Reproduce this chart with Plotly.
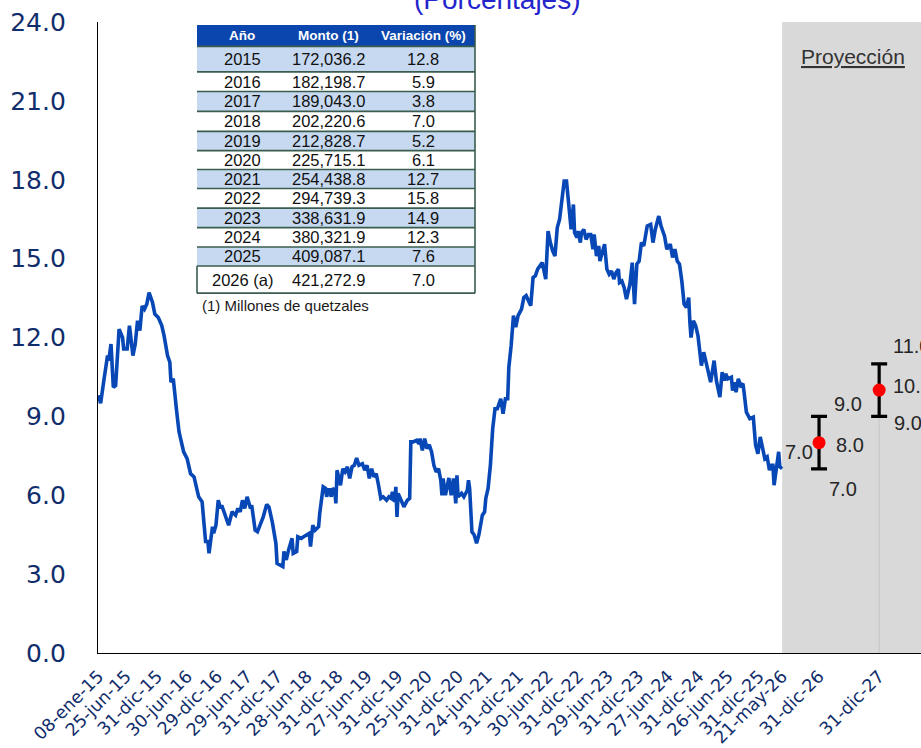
import plotly.graph_objects as go
import pandas as pd

# ---------------- data ----------------
inicio = "2015-01-08"  # first weekly observation
semana = [0, 2, 5, 6, 8, 9, 11, 13, 15, 18, 21, 22, 25, 27, 30, 32, 34, 36, 38,
          40, 42, 44, 47, 49, 52, 55, 57, 60, 62, 63, 65, 68, 70, 74, 77, 80, 83, 87, 90,
          93, 95, 96, 99, 100, 102, 104, 106, 107, 110, 113, 116, 119, 121, 123, 125, 127, 129, 132, 133,
          136, 138,
          140, 143, 146, 148, 151, 153, 154, 155, 158, 160, 161, 163, 165, 168, 169, 172, 173, 176, 178, 181,
          183, 184, 186, 188, 191, 192, 195, 197, 198, 200, 202, 203, 205, 206, 207, 210, 212, 214, 216, 218,
          220, 222, 224, 226, 229, 231, 233, 235, 237, 239, 241, 243, 245, 247, 250, 252, 254, 255, 257, 258,
          259, 260, 262, 265, 268, 270, 271, 273, 276, 278, 279, 281, 283, 285, 287, 289, 291, 293, 295, 297,
          298, 299, 301, 303, 304, 306, 308, 310, 311, 312, 315, 317, 320, 321,
          322, 324, 326, 328, 330, 333, 335, 336, 338, 340, 342, 344, 346, 348, 349, 351, 353, 355, 356, 358,
          360, 362, 364, 367, 369, 371, 373, 375, 377, 379, 381, 383, 385, 388, 390, 392, 394, 396, 398, 400,
          402, 404, 406, 407, 409, 410, 412, 413, 415, 416, 418, 419, 421, 423, 425, 427, 429, 430, 432, 434,
          435, 437, 439, 441, 443, 445, 447, 449, 451, 452,
          454, 456, 458, 461, 463, 465, 467, 469, 471, 473, 476, 479, 481, 483, 486, 488, 491, 493, 496, 498,
          500, 502, 504, 506, 508, 510, 512, 513, 514, 516, 518, 520, 522, 523, 525, 527, 529, 531, 534, 536,
          539, 541, 543, 544, 546, 549, 550, 552, 553, 555, 557, 559, 560, 562, 565, 568, 570, 572, 574, 576,
          578, 580, 582, 583, 585, 586, 588, 590, 591, 593]
valor = [9.8, 9.5, 10.43, 10.68, 11.31, 11.12, 11.75, 10.11, 10.17, 12.32, 12.0, 11.56, 11.56, 12.45, 11.31,
         11.75, 12.64, 12.26, 13.2,
         13.08, 13.27, 13.71, 13.33, 12.89, 12.76, 12.45, 12.07, 11.31, 11.06, 10.3, 10.43, 9.16, 8.41, 7.65,
         7.39, 6.82, 6.70, 5.94, 5.75,
         4.24, 4.24, 3.79, 4.80, 4.55, 4.86, 5.81, 5.50, 5.62, 5.24, 4.86, 5.37, 5.24, 5.50, 5.37, 5.81, 5.50,
         5.94, 5.50, 5.62, 4.67, 4.61,
         4.85, 5.18, 5.65, 5.55, 4.95, 4.42, 4.17, 3.41, 3.35, 3.29, 3.86, 3.54, 3.92, 4.36, 3.79, 3.86, 4.42,
         4.36, 4.42, 4.49,
         4.55, 4.05, 4.86, 4.67, 4.80, 5.31, 6.32, 6.26, 5.94, 6.26, 5.94, 6.26, 6.19, 5.69, 6.95, 6.38, 7.01,
         6.89, 7.08, 6.64,
         7.08, 7.14, 7.42, 7.14, 7.20, 6.95, 7.14, 6.64, 7.01, 6.70, 6.82, 6.38, 5.88, 5.94, 5.81, 5.94, 5.88,
         6.13, 5.75, 6.32,
         5.18, 6.07, 5.88, 5.56, 5.81, 5.88, 8.03, 8.03, 8.09, 7.96, 8.15, 7.71, 8.15, 7.77, 7.92, 7.65, 7.14,
         6.89, 7.01, 6.57,
         6.0, 6.64, 6.0, 6.51, 6.66, 6.0, 6.64, 5.69, 6.76, 5.94, 6.07, 5.94, 6.19, 6.57,
         6.26, 4.61, 4.49, 4.17, 4.49, 5.24, 5.37, 5.88, 6.26, 7.14, 8.53, 9.29, 9.29, 9.54, 9.67, 9.10, 9.67,
         9.67, 10.87, 11.69,
         12.83, 12.39, 12.83, 13.08, 13.52, 13.59, 13.40, 13.21, 14.28, 14.34, 14.60, 14.72, 14.85, 14.22,
         16.05, 15.61, 15.29, 15.10, 16.18, 16.49,
         17.38, 17.95, 17.95, 17.38, 16.49, 16.11, 17.06, 15.99, 15.80, 16.05, 15.61, 15.99, 16.11, 15.73,
         15.92, 15.92, 15.36, 15.92, 15.10, 15.48,
         14.91, 15.23, 15.55, 14.60, 14.41, 14.53, 14.22, 14.47, 14.60, 14.09,
         14.15, 13.90, 13.46, 14.03, 14.85, 13.27, 14.79, 14.91, 15.61, 15.48, 16.24, 16.30, 15.61, 16.11,
         16.62, 16.24, 15.86, 15.36, 15.55, 15.04,
         15.36, 14.91, 14.79, 14.15, 13.27, 13.14, 13.52, 12.58, 12.0, 12.64, 12.45, 12.07, 11.37, 10.93,
         11.44, 11.06, 10.55, 10.30, 11.12, 10.36,
         9.73, 10.68, 10.36, 10.62, 10.43, 10.49, 9.98, 10.30, 9.92, 10.43, 10.17, 10.24, 9.92, 9.16, 8.91,
         8.97, 7.90, 7.58, 8.22, 7.77,
         7.39, 7.46, 6.95, 7.14, 7.14, 6.38, 7.01, 7.65, 7.08, 7.01]

proy_fechas = ["2026-12-31", "2027-12-31"]
proy_central = [8.0, 10.0]
proy_inferior = [7.0, 9.0]
proy_superior = [9.0, 11.0]
inicio_proyeccion = "2026-05-21"

tick_labels = ["08-ene-15", "25-jun-15", "31-dic-15", "30-jun-16", "29-dic-16", "29-jun-17",
               "31-dic-17", "28-jun-18", "31-dic-18", "27-jun-19", "31-dic-19", "25-jun-20",
               "31-dic-20", "24-jun-21", "31-dic-21", "30-jun-22", "31-dic-22", "29-jun-23",
               "31-dic-23", "27-jun-24", "31-dic-24", "26-jun-25", "31-dic-25", "21-may-26",
               "31-dic-26", "31-dic-27"]

tabla_anios = ["2015", "2016", "2017", "2018", "2019", "2020", "2021", "2022", "2023",
               "2024", "2025", "2026 (a)"]
tabla_monto = [172036.2, 182198.7, 189043.0, 202220.6, 212828.7, 225715.1, 254438.8,
               294739.3, 338631.9, 380321.9, 409087.1, 421272.9]
tabla_variacion = [12.8, 5.9, 3.8, 7.0, 5.2, 6.1, 12.7, 15.8, 14.9, 12.3, 7.6, 7.0]
tabla_encabezado = ["Año", "Monto (1)", "Variación (%)"]

# ---------------- helpers ----------------
meses = {"ene": 1, "feb": 2, "mar": 3, "abr": 4, "may": 5, "jun": 6, "jul": 7,
         "ago": 8, "sep": 9, "oct": 10, "nov": 11, "dic": 12}


def label_to_date(s):
    d, m, y = s.split("-")
    return pd.Timestamp(year=2000 + int(y), month=meses[m], day=int(d))


tick_vals = [label_to_date(s) for s in tick_labels]
fechas = [pd.Timestamp(inicio) + pd.Timedelta(days=7 * s) for s in semana]

W, H = 921, 748
L, R, T, B = 98, 0, 22, 93


def px(x):
    return (x - L) / (W - L - R)


def py(y):
    return (H - B - y) / (H - T - B)


NAVY = "#112d6b"
AXFONT = "DejaVu Sans"
TXFONT = "Liberation Sans"

fig = go.Figure()

fig.add_trace(go.Scatter(x=fechas, y=valor, mode="lines",
                         line=dict(color="#0848b6", width=3.6), hoverinfo="skip",
                         showlegend=False))

fig.add_trace(go.Scatter(
    x=proy_fechas, y=proy_central, mode="markers",
    marker=dict(color="#ff0000", size=13),
    error_y=dict(type="data", symmetric=False,
                 array=[s - c for s, c in zip(proy_superior, proy_central)],
                 arrayminus=[c - i for c, i in zip(proy_central, proy_inferior)],
                 color="black", thickness=3.2, width=8),
    showlegend=False, hoverinfo="skip"))

shapes = []
# projection background
shapes.append(dict(type="rect", xref="x", yref="paper", x0=inicio_proyeccion, x1="2029-12-31",
                   y0=0, y1=1, fillcolor="#d9d9d9", line=dict(width=0), layer="below"))
shapes.append(dict(type="line", xref="x", yref="y", x0=proy_fechas[1], x1=proy_fechas[1],
                   y0=0, y1=proy_inferior[1], line=dict(color="#c4c4c4", width=1), layer="below"))

# ---------------- table ----------------
tx0, tx1 = 197, 475
bounds = [25, 46.5, 72, 91.7, 111.7, 131.7, 151, 170, 189, 208.7, 228.3, 247.7, 266.7, 294]
col_c = [242, 328, 423]
linec = "#3a5c4e"

shapes.append(dict(type="rect", xref="paper", yref="paper", x0=px(tx0), x1=px(tx1),
                   y0=py(bounds[1]), y1=py(bounds[0]), fillcolor="#0a46ad",
                   line=dict(width=0), layer="above"))
for i in range(len(tabla_anios)):
    fill = "#c6d9f0" if i % 2 == 0 and i < 11 else "white"
    shapes.append(dict(type="rect", xref="paper", yref="paper", x0=px(tx0), x1=px(tx1),
                       y0=py(bounds[i + 2]), y1=py(bounds[i + 1]), fillcolor=fill,
                       line=dict(width=0), layer="above"))
for b in bounds[1:]:
    shapes.append(dict(type="line", xref="paper", yref="paper", x0=px(tx0), x1=px(tx1),
                       y0=py(b), y1=py(b), line=dict(color=linec, width=1.6), layer="above"))
shapes.append(dict(type="line", xref="paper", yref="paper", x0=px(tx1), x1=px(tx1),
                   y0=py(bounds[-1]), y1=py(bounds[0]), line=dict(color=linec, width=1.6),
                   layer="above"))
shapes.append(dict(type="line", xref="paper", yref="paper", x0=px(tx0), x1=px(tx0),
                   y0=py(bounds[-1]), y1=py(bounds[-2]), line=dict(color=linec, width=1.6),
                   layer="above"))

ann = []
for c, h in zip(col_c, tabla_encabezado):
    ann.append(dict(xref="paper", yref="paper", x=px(c), y=py((bounds[0] + bounds[1]) / 2),
                    text=f"<b>{h}</b>", showarrow=False, xanchor="center", yanchor="middle",
                    font=dict(family=TXFONT, size=13.5, color="white")))
for i, (a, m, v) in enumerate(zip(tabla_anios, tabla_monto, tabla_variacion)):
    yc = py((bounds[i + 1] + bounds[i + 2]) / 2)
    for c, t in zip(col_c, [a, f"{m:,.1f}", f"{v:.1f}"]):
        ann.append(dict(xref="paper", yref="paper", x=px(c), y=yc, text=t, showarrow=False,
                        xanchor="center", yanchor="middle",
                        font=dict(family=TXFONT, size=16.5, color="#111111")))
ann.append(dict(xref="paper", yref="paper", x=px(200), y=py(306),
                text="(1) Millones de quetzales", showarrow=False, xanchor="left",
                yanchor="middle", font=dict(family=TXFONT, size=15, color="#1a1a1a")))

# title (cut off at top)
ann.append(dict(xref="paper", yref="paper", x=px(497), y=py(-1), text="(Porcentajes)",
                showarrow=False, xanchor="center", yanchor="middle",
                font=dict(family=TXFONT, size=28, color="#2424cc")))

# projection label
ann.append(dict(xref="paper", yref="paper", x=px(853), y=py(57), text="<u>Proyección</u>",
                showarrow=False, xanchor="center", yanchor="middle",
                font=dict(family=TXFONT, size=21, color="#333333")))

lab_font = dict(family=TXFONT, size=20, color="#262626")
# last observed value
ann.append(dict(x=fechas[-1], y=valor[-1], text=f"{valor[-1]:.1f}", showarrow=False,
                xanchor="left", yanchor="middle", xshift=1, yshift=17, font=lab_font))
# projections
shifts = [
    [(15, -2), (13, 12), (8, -20)],
    [(12, 4), (12, 18), (13, -7)],
]
for k in range(2):
    vals = [proy_central[k], proy_superior[k], proy_inferior[k]]
    for (xs, ys), v in zip(shifts[k], vals):
        ann.append(dict(x=proy_fechas[k], y=v, text=f"{v:.1f}", showarrow=False,
                        xanchor="left", yanchor="middle", xshift=xs, yshift=ys, font=lab_font))

fig.update_layout(
    width=W, height=H, margin=dict(l=L, r=R, t=T, b=B),
    paper_bgcolor="white", plot_bgcolor="white",
    shapes=shapes, annotations=ann, showlegend=False,
    xaxis=dict(type="date", range=["2015-01-06", "2028-09-10"], tickvals=tick_vals,
               ticktext=tick_labels, tickangle=-45, showgrid=False, zeroline=False,
               showline=True, linecolor="black", linewidth=1.3, ticks="",
               ticklabelstandoff=5,
               tickfont=dict(family=AXFONT, size=17.5, color=NAVY)),
    yaxis=dict(range=[0, 24], dtick=3, tick0=0, tickformat=".1f", showgrid=False,
               zeroline=False, showline=True, linecolor="black", linewidth=1.3, ticks="",
               ticklabelstandoff=26,
               tickfont=dict(family=AXFONT, size=25, color=NAVY)),
)

fig.write_html("out.html", config={"displayModeBar": False},
               post_script="document.body.style.margin='0';document.body.style.overflow='hidden';")
